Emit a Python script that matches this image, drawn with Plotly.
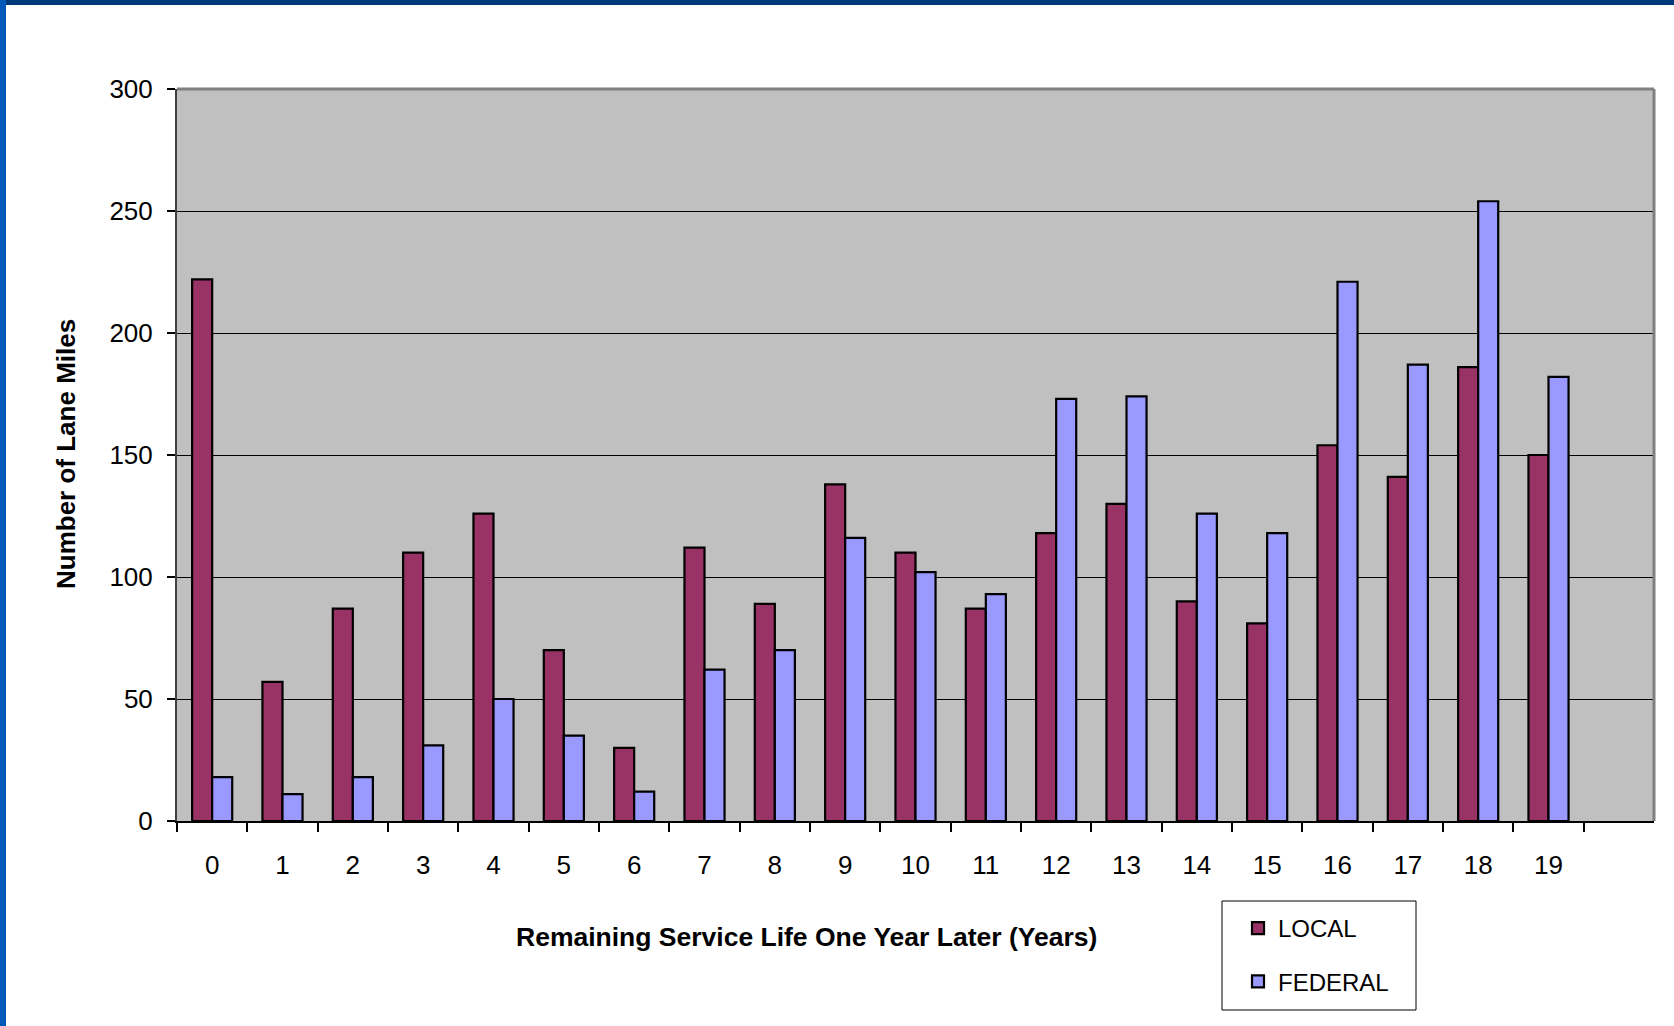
import plotly.graph_objects as go

years = list(range(20))
tick_labels = [str(y) for y in years]
local = [222, 57, 87, 110, 126, 70, 30, 112, 89, 138, 110, 87, 118, 130, 90, 81, 154, 141, 186, 150]
federal = [18, 11, 18, 31, 50, 35, 12, 62, 70, 116, 102, 93, 173, 174, 126, 118, 221, 187, 254, 182]

W, H = 1674, 1026
ML, MR, MT, MB = 177, 20, 89, 205
PW, PH = W - ML - MR, H - MT - MB

def px_x(x):
    return (x - ML) / PW

def px_y(y):
    return 1 - (y - MT) / PH

FONT = "Liberation Sans, Arial, sans-serif"

fig = go.Figure()
fig.add_trace(go.Bar(x=years, y=local, name="LOCAL", legendgroup="a",
                     marker=dict(color="#993366", line=dict(color="black", width=2.2))))
fig.add_trace(go.Bar(x=years, y=federal, name="FEDERAL", legendgroup="b",
                     marker=dict(color="#9999FF", line=dict(color="black", width=2.2))))

shapes = [
    dict(type="line", xref="paper", yref="paper", x0=0, x1=1, y0=1, y1=1,
         line=dict(color="#808080", width=3), layer="above"),
    dict(type="line", xref="paper", yref="paper", x0=1, x1=1, y0=0, y1=1,
         line=dict(color="#808080", width=3), layer="above"),
    dict(type="rect", xref="paper", yref="paper",
         x0=px_x(1222), x1=px_x(1416), y0=px_y(1010), y1=px_y(901),
         line=dict(color="black", width=1), fillcolor="white", layer="below"),
    dict(type="rect", xref="paper", yref="paper",
         x0=px_x(0), x1=px_x(W), y0=px_y(5), y1=px_y(-2),
         line=dict(width=0), fillcolor="#003a78", layer="above"),
    dict(type="rect", xref="paper", yref="paper",
         x0=px_x(-2), x1=px_x(6), y0=px_y(H + 2), y1=px_y(0),
         line=dict(width=0), fillcolor="#0058b8", layer="above"),
]

annotations = [
    dict(text="<b>Remaining Service Life One Year Later (Years)</b>",
         xref="paper", yref="paper", x=px_x(806), y=px_y(937),
         xanchor="center", yanchor="middle", showarrow=False,
         font=dict(family=FONT, size=26.5, color="black")),
    dict(text="<b>Number of Lane Miles</b>",
         xref="paper", yref="paper", x=px_x(66), y=px_y(454),
         xanchor="center", yanchor="middle", showarrow=False, textangle=-90,
         font=dict(family=FONT, size=26, color="black")),
]

fig.update_layout(
    width=W, height=H,
    margin=dict(l=ML, r=MR, t=MT, b=MB, pad=0),
    paper_bgcolor="white",
    plot_bgcolor="#C0C0C0",
    barmode="group",
    bargap=0.43,
    bargroupgap=0,
    font=dict(family=FONT, size=24, color="black"),
    showlegend=True,
    legend=dict(x=px_x(1238), y=px_y(906), xanchor="left", yanchor="top",
                bgcolor="rgba(0,0,0,0)", borderwidth=0,
                font=dict(family=FONT, size=24, color="black"),
                tracegroupgap=19, itemwidth=30),
    shapes=shapes,
    annotations=annotations,
    xaxis=dict(
        range=[-0.5, 20.5],
        tickmode="array", tickvals=years, ticktext=tick_labels,
        ticks="", ticklen=0,
        minor=dict(tickmode="array", tickvals=[i - 0.5 for i in range(21)],
                   ticks="outside", ticklen=9, tickcolor="black", tickwidth=1.5),
        showgrid=False, zeroline=False,
        showline=True, linecolor="black", linewidth=1.5,
        tickfont=dict(family=FONT, size=26),
        ticklabelstandoff=20,
        fixedrange=True,
    ),
    yaxis=dict(
        range=[0, 300],
        tickmode="array", tickvals=[0, 50, 100, 150, 200, 250, 300],
        ticks="outside", ticklen=8, tickcolor="black", tickwidth=1.5,
        showgrid=True, gridcolor="black", gridwidth=1,
        zeroline=False,
        showline=True, linecolor="#404040", linewidth=2,
        tickfont=dict(family=FONT, size=26),
        ticklabelstandoff=9,
        fixedrange=True,
    ),
)

fig.write_html("out.html")
